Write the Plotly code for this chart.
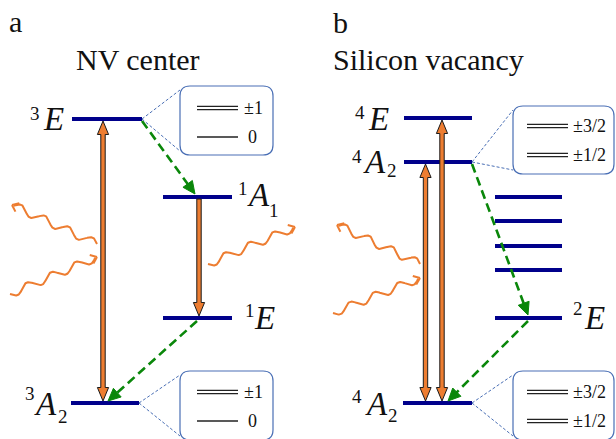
import numpy as np
import plotly.graph_objects as go

# ---------------- energy-level data (diagram units: px-like, y grows downward) -------------
NV_STATE_Y = [119, 197, 318, 403]          # 3E, 1A1, 1E, 3A2
NV_STATE_X0 = [72, 163, 163, 71]
NV_STATE_X1 = [142, 232, 232, 139]

SIV_STATE_Y = [118, 162, 197, 221, 246, 270, 318, 403]   # 4E, 4A2*, four bands, 2E, 4A2
SIV_STATE_X0 = [404, 404, 495, 495, 495, 495, 495, 403]
SIV_STATE_X1 = [472, 472, 562, 562, 562, 562, 562, 472]

NV_SUBLEVELS = ["±1", "0"]
SIV_SUBLEVELS = ["±3/2", "±1/2"]
NV_SUBLEVEL_DOUBLE = [True, False]
SIV_SUBLEVEL_DOUBLE = [True, True]

# optical transitions (x, y_top, y_bottom, head at top, head at bottom)
NV_OPTICAL = [(103, 121, 401, True, True), (199, 199, 316, False, True)]
SIV_OPTICAL = [(425.5, 164, 401, True, True), (442, 120, 401, True, True)]

# non-radiative (dashed) transitions: start -> tip
NV_NONRAD = [((142, 121), (195, 194)), ((197, 321), (108, 401))]
SIV_NONRAD = [((472, 164), (528, 315)), ((528, 321), (448, 401))]

# photons: start -> arrow tip
NV_PHOTONS = [((97, 244), (12, 205)), ((10, 294), (97, 257)), ((208, 264), (295, 227))]
SIV_PHOTONS = [((420, 264), (337, 225)), ((333, 313), (420, 278))]

LEVEL_C = "#00008B"
ORANGE = "#ED7D31"
GREEN = "#0A870A"
BOXBLUE = "#4A6FB5"
SERIF = "Liberation Serif"

fig = go.Figure()


def line(xs, ys, color, width, dash=None):
    fig.add_trace(go.Scatter(x=list(xs), y=list(ys), mode="lines",
                             line=dict(color=color, width=width, dash=dash),
                             hoverinfo="skip", showlegend=False))


def poly(xs, ys, fill, edge, ew):
    xs, ys = list(xs), list(ys)
    fig.add_trace(go.Scatter(x=xs + [xs[0]], y=ys + [ys[0]], mode="lines",
                             fill="toself", fillcolor=fill,
                             line=dict(color=edge, width=ew),
                             hoverinfo="skip", showlegend=False))


def optical_arrow(x, yt, yb, head_t, head_b):
    hw, hl, sw = 5.6, 13.5, 2.2
    bt = yt + hl if head_t else yt
    bb = yb - hl if head_b else yb
    xs, ys = [], []
    if head_t:
        xs += [x - hw, x, x + hw]
        ys += [bt, yt, bt]
    xs += [x + sw, x + sw]
    ys += [bt, bb]
    if head_b:
        xs += [x + hw, x, x - hw]
        ys += [bb, yb, bb]
    xs += [x - sw, x - sw]
    ys += [bb, bt]
    poly(xs, ys, ORANGE, "#1a1a1a", 1)


def dashed_arrow(p0, p1):
    (x0, y0), (x1, y1) = p0, p1
    L = np.hypot(x1 - x0, y1 - y0)
    ux, uy = (x1 - x0) / L, (y1 - y0) / L
    hl, hw = 12.5, 5.8
    bx, by = x1 - ux * hl, y1 - uy * hl
    line([x0, bx + ux * 2], [y0, by + uy * 2], GREEN, 2.6, "9px,5px")
    poly([x1, bx - uy * hw, bx + uy * hw], [y1, by + ux * hw, by - ux * hw], GREEN, GREEN, 1)


def photon(p0, p1, period=25.0, amp=4.0):
    (x0, y0), (x1, y1) = p0, p1
    L = np.hypot(x1 - x0, y1 - y0)
    ux, uy = (x1 - x0) / L, (y1 - y0) / L
    nx, ny = -uy, ux
    halfs = max(1, round(2 * (L - 2) / period))
    lam = 2 * (L - 2) / halfs
    s = np.linspace(0, L - 2, 300)
    off = amp * np.sin(2 * np.pi * s / lam)
    line(x0 + ux * s + nx * off, y0 + uy * s + ny * off, ORANGE, 2)
    # open arrow head
    ah, ang = 7.5, np.radians(38)
    for sgn in (1, -1):
        c, sn = np.cos(ang), sgn * np.sin(ang)
        dx, dy = -(ux * c - uy * sn), -(ux * sn + uy * c)
        line([x1 + dx * ah, x1], [y1 + dy * ah, y1], ORANGE, 2)


def rounded_box(x0, y0, x1, y1, r=10):
    path = (f"M {x0 + r},{y0} L {x1 - r},{y0} Q {x1},{y0} {x1},{y0 + r} "
            f"L {x1},{y1 - r} Q {x1},{y1} {x1 - r},{y1} L {x0 + r},{y1} "
            f"Q {x0},{y1} {x0},{y1 - r} L {x0},{y0 + r} Q {x0},{y0} {x0 + r},{y0} Z")
    fig.add_shape(type="path", path=path, xref="x", yref="y",
                  line=dict(color=BOXBLUE, width=1.2), fillcolor="rgba(255,255,255,0)")


def zoom_box(anchor, box, lx, ys, labels, doubles, tx):
    ax, ay = anchor
    x0, y0, x1, y1 = box
    line([ax, x0], [ay, y0 + 4], BOXBLUE, 1, "3px,2px")
    line([ax, x0], [ay, y1 - 4], BOXBLUE, 1, "3px,2px")
    rounded_box(x0, y0, x1, y1)
    for y, lab, dbl in zip(ys, labels, doubles):
        if dbl:
            line(lx, [y - 1.7, y - 1.7], "#222222", 1.2)
            line(lx, [y + 1.7, y + 1.7], "#222222", 1.2)
        else:
            line(lx, [y, y], "#222222", 1.5)
        fig.add_annotation(x=tx if lab != "0" else tx + 10, y=y, text=lab, showarrow=False,
                           xanchor="left" if lab != "0" else "center", yanchor="middle",
                           font=dict(family=SERIF, size=18, color="#111111"))


def text(x, y, s, size, italic=False, xanchor="center"):
    fig.add_annotation(x=x, y=y, text=f"<i>{s}</i>" if italic else s, showarrow=False,
                       xanchor=xanchor, yanchor="middle",
                       font=dict(family=SERIF, size=size, color="#111111"))


# energy levels
for x0, x1, y in zip(NV_STATE_X0, NV_STATE_X1, NV_STATE_Y):
    line([x0, x1], [y, y], LEVEL_C, 4)
for x0, x1, y in zip(SIV_STATE_X0, SIV_STATE_X1, SIV_STATE_Y):
    line([x0, x1], [y, y], LEVEL_C, 4)

# transitions
for args in NV_OPTICAL + SIV_OPTICAL:
    optical_arrow(*args)
for p0, p1 in NV_NONRAD + SIV_NONRAD:
    dashed_arrow(p0, p1)
for p0, p1 in NV_PHOTONS + SIV_PHOTONS:
    photon(p0, p1)

# fine-structure insets
zoom_box((NV_STATE_X1[0], NV_STATE_Y[0]), (180, 86, 273, 155), [197, 238], [108, 137],
         NV_SUBLEVELS, NV_SUBLEVEL_DOUBLE, 242)
zoom_box((NV_STATE_X1[3], NV_STATE_Y[3]), (180, 371, 273, 440), [197, 238], [392, 421],
         NV_SUBLEVELS, NV_SUBLEVEL_DOUBLE, 242)
zoom_box((SIV_STATE_X1[1], SIV_STATE_Y[1]), (513, 106, 614, 174), [527, 568], [126, 155],
         SIV_SUBLEVELS, SIV_SUBLEVEL_DOUBLE, 571)
zoom_box((SIV_STATE_X1[7], SIV_STATE_Y[7]), (513, 371, 614, 440), [527, 568], [392, 421],
         SIV_SUBLEVELS, SIV_SUBLEVEL_DOUBLE, 571)

# panel letters and titles
text(15, 21, "a", 30)
text(340, 22, "b", 30)
text(138, 59, "NV center", 30)
text(428, 59, "Silicon vacancy", 30)

# term symbols: NV
text(35, 113, "3", 19); text(53, 119, "E", 33, True)
text(243, 188, "1", 19); text(258, 195, "A", 33, True); text(274, 210, "1", 19)
text(250, 310, "1", 19); text(264, 318, "E", 33, True)
text(30, 393, "3", 19); text(45, 404, "A", 33, True); text(63, 416, "2", 19)
# term symbols: SiV
text(360, 112, "4", 19); text(378, 119, "E", 33, True)
text(357, 156, "4", 19); text(374, 162, "A", 33, True); text(392, 170, "2", 19)
text(578, 308, "2", 19); text(594, 318, "E", 33, True)
text(357, 396, "4", 19); text(376, 404, "A", 33, True); text(393, 415, "2", 19)

fig.update_layout(
    width=616, height=439, margin=dict(l=0, r=0, t=0, b=0),
    paper_bgcolor="white", plot_bgcolor="white", showlegend=False,
    font=dict(family=SERIF),
    xaxis=dict(range=[0, 616], visible=False, fixedrange=True),
    yaxis=dict(range=[439, 0], visible=False, fixedrange=True),
)
fig.write_html("out.html", config={"displayModeBar": False})
